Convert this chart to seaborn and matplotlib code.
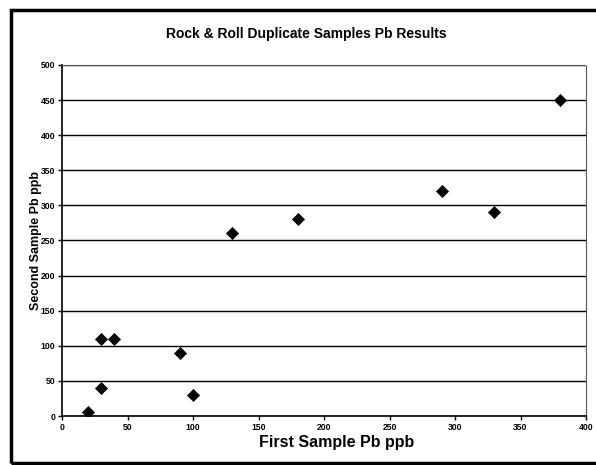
import matplotlib
matplotlib.use("Agg")
import matplotlib.pyplot as plt
import seaborn as sns
import pandas as pd
from matplotlib.patches import Rectangle

first_sample = [20, 30, 40, 30, 90, 100, 130, 180, 290, 330, 380]
second_sample = [5, 110, 110, 40, 90, 30, 260, 280, 320, 290, 450]
x_ticks = [0, 50, 100, 150, 200, 250, 300, 350, 400]
y_ticks = [0, 50, 100, 150, 200, 250, 300, 350, 400, 450, 500]

df = pd.DataFrame({"first": first_sample, "second": second_sample})

sns.set_theme(style="white")
plt.rcParams['font.family'] = ['Liberation Sans', 'DejaVu Sans']
plt.rcParams['text.color'] = 'black'
plt.rcParams['axes.labelcolor'] = 'black'
plt.rcParams['xtick.color'] = 'black'
plt.rcParams['ytick.color'] = 'black'

fig = plt.figure(figsize=(5.96, 4.65), dpi=100)
ax = fig.add_axes([62/596, 49/465, 524/596, 351/465])

sns.scatterplot(data=df, x="first", y="second", marker="D", color="black",
                s=38, edgecolor="black", linewidth=0.5, ax=ax, zorder=3)

ax.set_xlim(0, 400)
ax.set_ylim(0, 500)
ax.set_xticks(x_ticks)
ax.set_yticks(y_ticks)
ax.yaxis.grid(True, color="black", linewidth=1.0)
ax.xaxis.grid(False)
ax.set_axisbelow(True)

for s in ["left", "bottom"]:
    ax.spines[s].set_color("black")
    ax.spines[s].set_linewidth(1.2)
for s in ["top", "right"]:
    ax.spines[s].set_color("#555555")
    ax.spines[s].set_linewidth(0.8)
    ax.spines[s].set_linestyle((0, (1, 1)))

ax.tick_params(axis="both", which="major", direction="out", length=3, width=1,
               color="black", labelcolor="black", labelsize=6.2, pad=2,
               bottom=True, left=True)
for lbl in ax.get_xticklabels() + ax.get_yticklabels():
    lbl.set_fontweight("bold")

ax.set_xlabel("First Sample Pb ppb", fontsize=11.5, fontweight="bold",
              labelpad=1, color="black")
ax.xaxis.set_label_coords(0.525, -0.055)
ax.set_ylabel("Second Sample Pb ppb", fontsize=9, fontweight="bold",
              color="black")
ax.yaxis.set_label_coords(-0.038, 0.5)
fig.text(306/596, 1 - 34/465, "Rock & Roll Duplicate Samples Pb Results",
         ha="center", va="center", fontsize=10, fontweight="bold", color="black")

frame = Rectangle((11/596, 2/465), 600/596, 453/465, transform=fig.transFigure,
                  fill=False, edgecolor="black", linewidth=2.5, clip_on=False)
fig.patches.append(frame)

fig.savefig("out.png", dpi=100)
